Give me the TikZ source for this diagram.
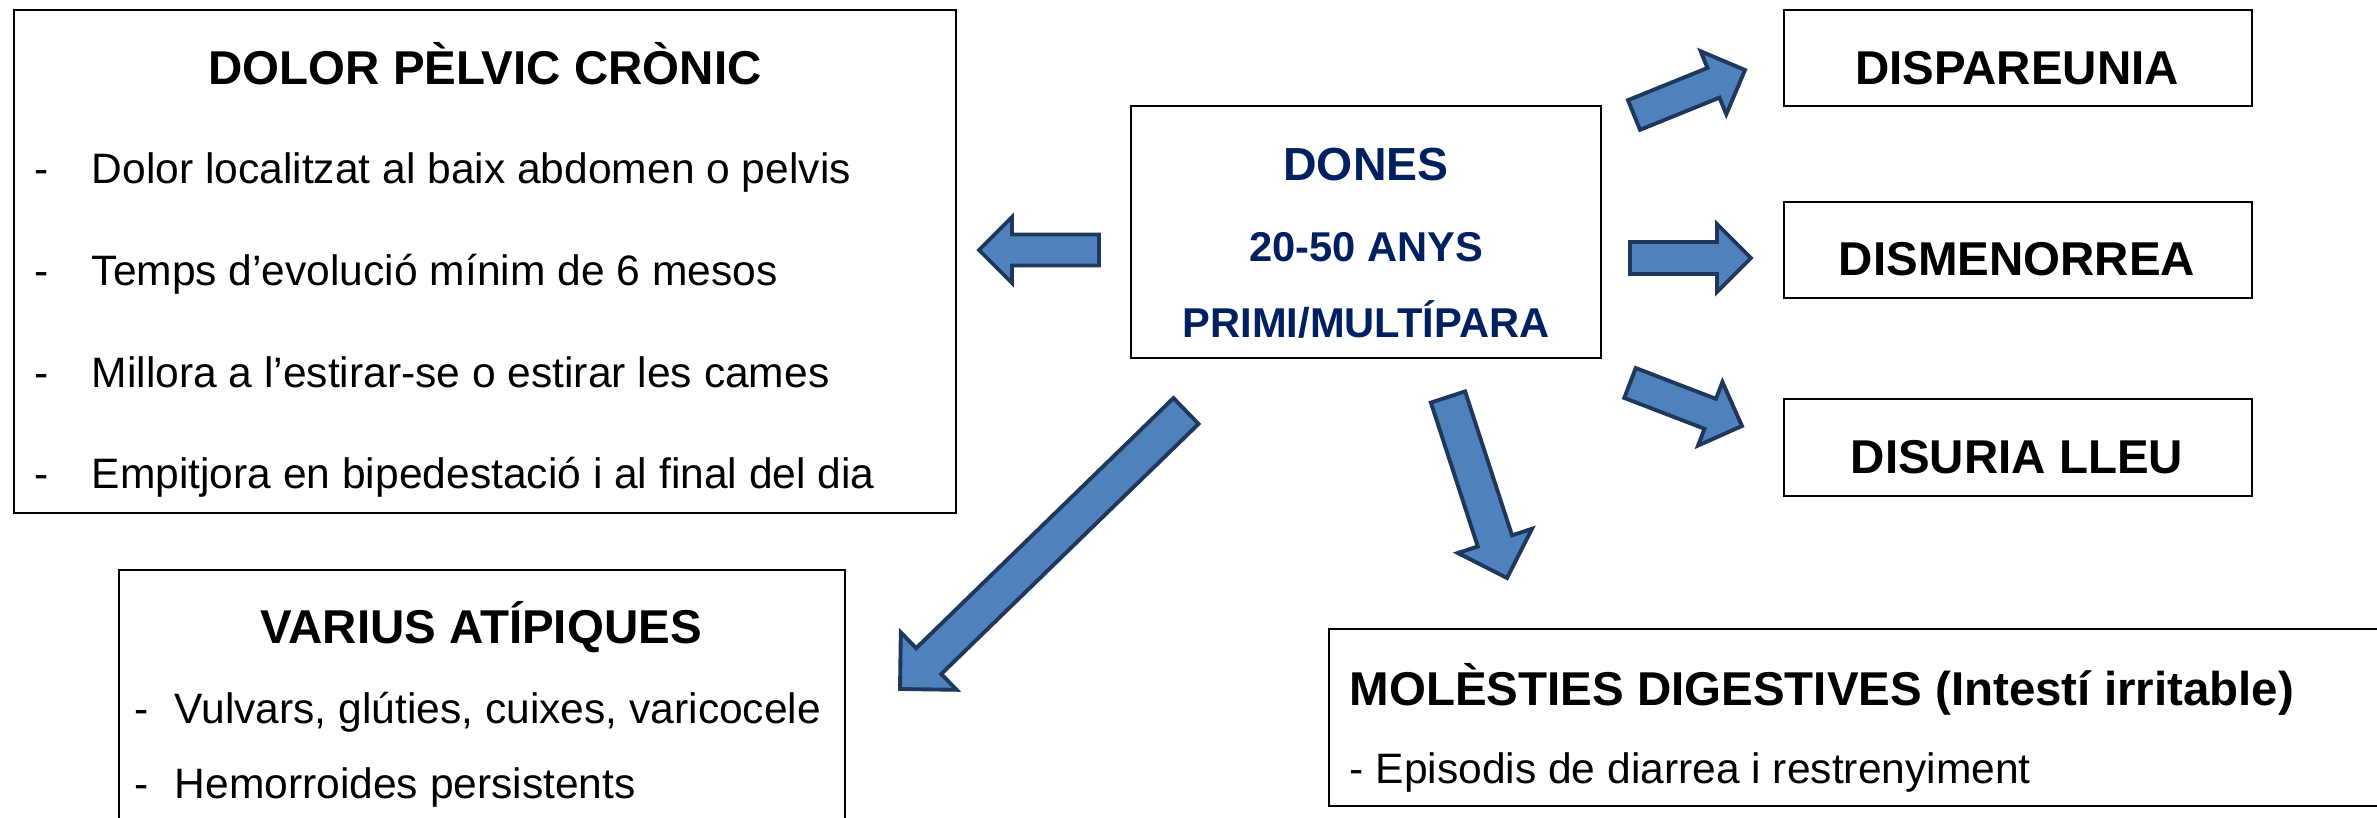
\documentclass[tikz,border=0pt]{standalone}
\usepackage{fontspec}
\setmainfont{Liberation Sans}
\usetikzlibrary{calc, positioning}

\definecolor{arrowfill}{RGB}{79,129,189}
\definecolor{arrowline}{RGB}{30,55,90}
\definecolor{donesblue}{RGB}{0,32,96}

\tikzset{
	box/.style={
		draw,
		line width=0.6pt,
		inner sep=0pt
	},
	boxtitle/.style={
		inner sep=0pt,
		font=\fontsize{13.5}{16}\selectfont\bfseries
	},
	item/.style={
		inner sep=0pt,
		anchor=base west,
		font=\fontsize{12.1}{14}\selectfont
	},
	donestext/.style={
		inner sep=0pt,
		anchor=base,
		text=donesblue,
		font=\fontsize{11.85}{14}\selectfont\bfseries
	},
	blockarrow/.style={
		draw=arrowline,
		fill=arrowfill,
		line width=1.1pt,
		line join=miter
	}
}

% block arrow from #1 to #2, shaft half width #3, head half width and length #4
\newcommand{\blockarrow}[4]{%
	\coordinate (#1-base) at ($(#2)!#4!(#1)$);
	\draw[blockarrow] ($(#1)!#3!90:(#2)$) -- ($(#1-base)!#3!-90:(#1)$)
		-- ($(#1-base)!#4!-90:(#1)$) -- (#2)
		-- ($(#1-base)!#4!90:(#1)$) -- ($(#1-base)!#3!90:(#1)$)
		-- ($(#1)!#3!-90:(#2)$) -- cycle;
}

\begin{document}
\begin{tikzpicture}[x=0.01cm, y=-0.01cm]
	\clip (0,0) rectangle (2377,818);

	% DOLOR PELVIC CRONIC
	\node[
		box,
		minimum width=9.42cm,
		minimum height=5.03cm
	] (dolor) at (485,261.5) {};
	\node[boxtitle, anchor=base] (dolortitle) at (485,84) {DOLOR PÈLVIC CRÒNIC};
	\node[item] (dash1) at (34,183) {-};
	\node[item] (dolor1) at (91,183) {Dolor localitzat al baix abdomen o pelvis};
	\node[item] (dash2) at (34,285) {-};
	\node[item] (dolor2) at (91,285) {Temps d’evolució mínim de 6 mesos};
	\node[item] (dash3) at (34,387) {-};
	\node[item] (dolor3) at (91,387) {Millora a l’estirar-se o estirar les cames};
	\node[item] (dash4) at (34,488) {-};
	\node[item] (dolor4) at (91,488) {Empitjora en bipedestació i al final del dia};

	% DONES
	\node[
		box,
		minimum width=4.69cm,
		minimum height=2.52cm
	] (dones) at (1366,232) {};
	\node[donestext, font=\fontsize{13.2}{16}\selectfont\bfseries] (donestitle) at (1366,180.5) {DONES};
	\node[donestext] (anys) at (1366,261) {20-50 ANYS};
	\node[donestext] (para) at (1366,337) {PRIMI/MULTÍPARA};

	% right column
	\node[
		box,
		minimum width=4.68cm,
		minimum height=0.96cm
	] (disp) at (2018,58) {};
	\node[boxtitle, anchor=base] (disptitle) at (2017,84) {DISPAREUNIA};
	\node[
		box,
		minimum width=4.68cm,
		minimum height=0.96cm
	] (dism) at (2018,250) {};
	\node[boxtitle, anchor=base] (dismtitle) at (2017,275) {DISMENORREA};
	\node[
		box,
		minimum width=4.68cm,
		minimum height=0.97cm
	] (disu) at (2018,447.5) {};
	\node[boxtitle, anchor=base] (disutitle) at (2017,473) {DISURIA LLEU};

	% VARIUS ATIPIQUES
	\node[
		box,
		minimum width=7.26cm,
		minimum height=2.8cm
	] (varius) at (482,710) {};
	\node[boxtitle, anchor=base] (variustitle) at (481,643) {VARIUS ATÍPIQUES};
	\node[item] (vdash1) at (134,723) {-};
	\node[item] (varius1) at (174,723) {Vulvars, glúties, cuixes, varicocele};
	\node[item] (vdash2) at (134,798) {-};
	\node[item] (varius2) at (174,798) {Hemorroides persistents};

	% MOLESTIES DIGESTIVES
	\node[
		box,
		minimum width=10.9cm,
		minimum height=1.77cm
	] (molest) at (1874,717.5) {};
	\node[boxtitle, anchor=base west] (molesttitle) at (1349,705) {MOLÈSTIES DIGESTIVES (Intestí irritable)};
	\node[item] (molest1) at (1349,783) {- Episodis de diarrea i restrenyiment};

	% arrows
	\coordinate (arrL) at (1099,250);
	\coordinate (arrLtip) at (979,250);
	\blockarrow{arrL}{arrLtip}{0.155cm}{0.33cm}

	\coordinate (arrUR) at (1634,115);
	\coordinate (arrURtip) at (1745,70);
	\blockarrow{arrUR}{arrURtip}{0.16cm}{0.34cm}

	\coordinate (arrR) at (1630,258);
	\coordinate (arrRtip) at (1751,258);
	\blockarrow{arrR}{arrRtip}{0.16cm}{0.34cm}

	\coordinate (arrDR) at (1630,383);
	\coordinate (arrDRtip) at (1742,426);
	\blockarrow{arrDR}{arrDRtip}{0.16cm}{0.34cm}

	\coordinate (arrD) at (1448,397);
	\coordinate (arrDtip) at (1507,578);
	\blockarrow{arrD}{arrDtip}{0.18cm}{0.39cm}

	\coordinate (arrDL) at (1186,411);
	\coordinate (arrDLtip) at (900,689);
	\blockarrow{arrDL}{arrDLtip}{0.18cm}{0.40cm}
\end{tikzpicture}
\end{document}
